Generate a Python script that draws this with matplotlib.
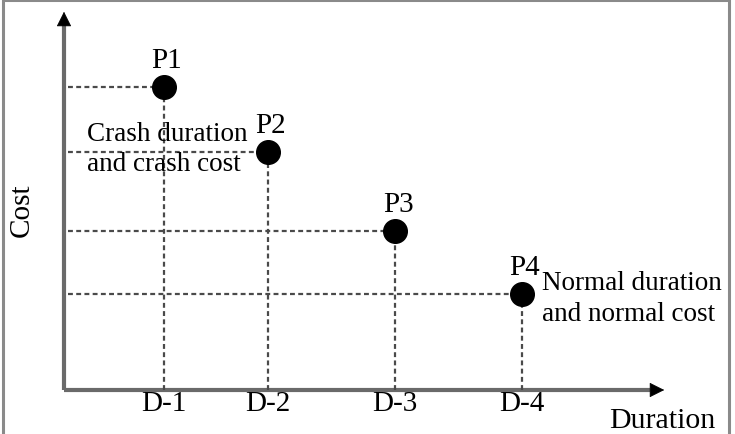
import matplotlib.pyplot as plt
from matplotlib.patches import Rectangle

# ── Данные (единица = 100 px от начала осей) ────────────────────────────────
points = ['P1', 'P2', 'P3', 'P4']
ticks = ['D-1', 'D-2', 'D-3', 'D-4']
duration = [1.00, 2.04, 3.31, 4.58]
cost = [3.03, 2.38, 1.59, 0.96]

plt.rcParams['font.family'] = ['Liberation Serif', 'DejaVu Serif']
FS = 21
FS_NOTE = 19.5
LINE = '#4a4a4a'

fig = plt.figure(figsize=(7.35, 4.35), dpi=100)
ax = fig.add_axes([0, 0, 1, 1])
ax.set_xlim(-0.64, 6.71)
ax.set_ylim(-0.44, 3.91)
ax.axis('off')

# рамка картинки
fig.patches.append(Rectangle((0.004, -0.01), 0.988, 1.007, transform=fig.transFigure,
                             fill=False, edgecolor='#8a8a8a', lw=2.2))

# оси со стрелками
ax.plot([0, 0], [0, 3.66], color='#6a6a6a', lw=3, solid_capstyle='butt')
ax.plot([0, 5.86], [0, 0], color='#6a6a6a', lw=3, solid_capstyle='butt')
ax.annotate('', xy=(0, 3.81), xytext=(0, 3.64),
            arrowprops=dict(arrowstyle='-|>', color='black', mutation_scale=24, lw=0.5))
ax.annotate('', xy=(6.03, 0), xytext=(5.84, 0),
            arrowprops=dict(arrowstyle='-|>', color='black', mutation_scale=24, lw=0.5))

# пунктирные проекции
for x, y in zip(duration, cost):
    ax.plot([0.04, x], [y, y], ls=(0, (2.2, 1.5)), color=LINE, lw=1.6)
    ax.plot([x, x], [0, y], ls=(0, (2.2, 1.5)), color=LINE, lw=1.6)

ax.plot(duration, cost, 'o', color='black', ms=17, zorder=5)

for x, y, lab in zip(duration, cost, points):
    ax.text(x + 0.03, y + 0.27, lab, fontsize=FS, ha='center', va='center')

for x, lab in zip(duration, ticks):
    ax.text(x, -0.13, lab, fontsize=FS, ha='center', va='center')

ax.text(5.98, -0.30, 'Duration', fontsize=FS + 0.5, ha='center', va='center')
ax.text(-0.42, 1.81, 'Cost', fontsize=FS, ha='center', va='center', rotation=90)

ax.text(0.23, 2.415, 'Crash duration\nand crash cost', fontsize=FS_NOTE,
        ha='left', va='center', linespacing=1.3)
ax.text(4.78, 0.92, 'Normal duration\nand normal cost', fontsize=FS_NOTE,
        ha='left', va='center', linespacing=1.3)

plt.savefig('out.png', dpi=100)
